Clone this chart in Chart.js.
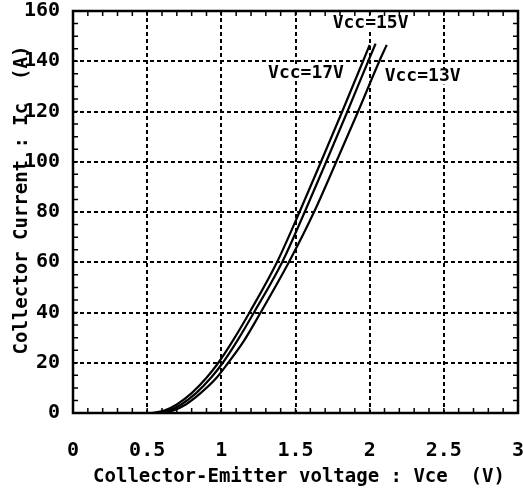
<!DOCTYPE html>
<html>
<head>
<meta charset="utf-8">
<script src="https://cdn.jsdelivr.net/npm/chart.js@4.4.1/dist/chart.umd.min.js"></script>
<style>
  body { margin: 0; background: #fff; }
  canvas { display: block; }
</style>
</head>
<body>
<canvas id="chart" width="523" height="493"></canvas>
<script>
// Ic - Vce curves
const vce17 = [0.53, 0.62, 0.70, 0.80, 0.90, 0.98, 1.08, 1.19, 1.375, 1.527, 1.672, 1.815, 1.955, 2.0];
const ic17  = [0, 1.1, 3.4, 7.9, 14, 20, 29, 40, 60, 80, 100, 120, 140, 146.5];

const vce15 = [0.56, 0.65, 0.73, 0.83, 0.93, 1.01, 1.11, 1.22, 1.41, 1.562, 1.707, 1.85, 1.99, 2.04];
const ic15  = [0, 1.1, 3.4, 7.9, 14, 20, 29, 40, 60, 80, 100, 120, 140, 147];

const vce13 = [0.59, 0.68, 0.76, 0.86, 0.96, 1.04, 1.15, 1.265, 1.455, 1.625, 1.775, 1.922, 2.065, 2.115];
const ic13  = [0, 1.1, 3.4, 7.9, 13.5, 19.5, 28.5, 40, 60, 80, 100, 120, 140, 146.5];

const seriesLabels = ['Vcc=17V', 'Vcc=15V', 'Vcc=13V'];
const xTickLabels = ['0', '0.5', '1', '1.5', '2', '2.5', '3'];
const xTitle = 'Collector-Emitter voltage : Vce  (V)';
const yTitle = 'Collector Current : Ic  (A)';

const mono = '"DejaVu Sans Mono", "Liberation Mono", monospace';

function pts(xs, ys) {
  return xs.map((x, i) => ({ x: x, y: ys[i] }));
}

function curve(label, xs, ys) {
  return {
    label: label,
    data: pts(xs, ys),
    borderColor: '#000',
    borderWidth: 2.2,
    pointRadius: 0,
    cubicInterpolationMode: 'monotone',
    fill: false
  };
}

// box, inner minor ticks, curve labels and the axis titles
const decor = {
  id: 'decor',
  beforeDatasetsDraw(chart) {
    const ctx = chart.ctx;
    const xs = chart.scales.x, ys = chart.scales.y;
    const a = chart.chartArea;
    ctx.save();

    // curve labels, white box behind so the grid is hidden
    ctx.font = 'bold 18px ' + mono;
    ctx.textAlign = 'center';
    ctx.textBaseline = 'middle';
    const spots = [[1.571, 135.3], [2.006, 155], [2.357, 133.9]];
    seriesLabels.forEach((t, i) => {
      const px = xs.getPixelForValue(spots[i][0]);
      const py = ys.getPixelForValue(spots[i][1]);
      const w = ctx.measureText(t).width;
      ctx.fillStyle = '#fff';
      ctx.fillRect(px - w / 2 - 1, py - 8, w + 2, 16);
      ctx.fillStyle = '#000';
      ctx.fillText(t, px, py);
    });

    ctx.strokeStyle = '#000';
    ctx.lineWidth = 1.5;
    ctx.beginPath();
    for (let i = 0; i <= 30; i++) {
      const px = xs.getPixelForValue(i / 10);
      ctx.moveTo(px, a.bottom); ctx.lineTo(px, a.bottom - 5);
      ctx.moveTo(px, a.top); ctx.lineTo(px, a.top + 5);
    }
    for (let i = 0; i <= 32; i++) {
      const py = ys.getPixelForValue(i * 5);
      ctx.moveTo(a.left, py); ctx.lineTo(a.left + 5, py);
      ctx.moveTo(a.right, py); ctx.lineTo(a.right - 5, py);
    }
    ctx.stroke();
    ctx.lineWidth = 2.5;
    ctx.strokeRect(a.left, a.top, a.right - a.left, a.bottom - a.top);

    ctx.font = 'bold 19px ' + mono;
    ctx.fillText(xTitle, 299, 477);
    ctx.translate(22, 200);
    ctx.rotate(-Math.PI / 2);
    ctx.fillText(yTitle, 0, 0);
    ctx.restore();
  }
};

new Chart(document.getElementById('chart'), {
  type: 'line',
  data: {
    datasets: [
      curve(seriesLabels[0], vce17, ic17),
      curve(seriesLabels[1], vce15, ic15),
      curve(seriesLabels[2], vce13, ic13)
    ]
  },
  options: {
    responsive: false,
    animation: false,
    devicePixelRatio: 1,
    layout: { padding: { top: 11, right: 5, left: 0, bottom: 0 } },
    plugins: { legend: { display: false }, tooltip: { enabled: false } },
    scales: {
      x: {
        type: 'linear',
        min: 0,
        max: 3,
        afterFit(s) { s.height = 80; s.paddingLeft = 0; s.paddingRight = 0; },
        ticks: {
          stepSize: 0.5,
          color: '#000',
          padding: 26,
          maxRotation: 0,
          font: { family: mono, size: 20, weight: 'bold' },
          callback: (v) => xTickLabels[Math.round(v * 2)]
        },
        grid: { color: '#000', lineWidth: 2, drawTicks: false },
        border: { display: false, dash: [4, 3] }
      },
      y: {
        type: 'linear',
        min: 0,
        max: 160,
        afterFit(s) { s.width = 73; s.paddingTop = 0; s.paddingBottom = 0; },
        ticks: {
          stepSize: 20,
          color: '#000',
          padding: 13,
          font: { family: mono, size: 20, weight: 'bold' }
        },
        grid: { color: '#000', lineWidth: 2, drawTicks: false },
        border: { display: false, dash: [4, 3] }
      }
    }
  },
  plugins: [decor]
});
</script>
</body>
</html>
